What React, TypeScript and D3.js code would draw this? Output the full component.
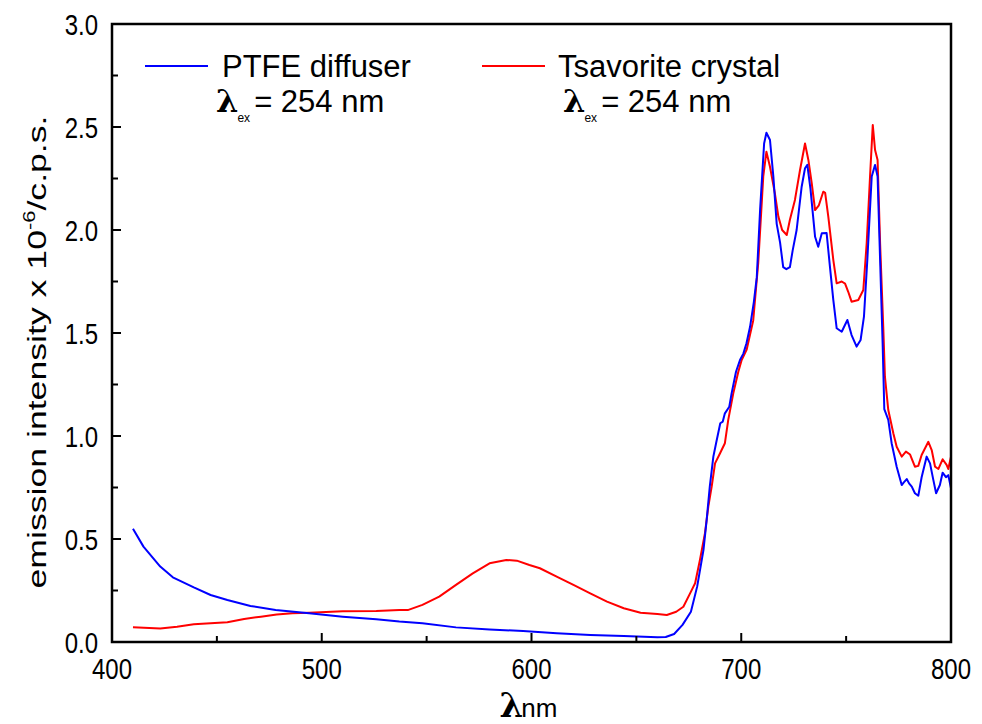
import React from 'react';
import * as d3 from 'd3';

// PTFE diffuser emission, [wavelength nm, intensity x 1e-6]
const ptfeSpectrum: [number, number][] = [
  [410, 0.55], [415, 0.463], [423, 0.366], [429, 0.314], [439, 0.265], [447, 0.228],
  [455, 0.204], [466, 0.175], [478, 0.155], [494, 0.139], [510, 0.123], [526, 0.11],
  [537, 0.099], [548, 0.091], [564, 0.071], [580, 0.061], [596, 0.053], [612, 0.042],
  [628, 0.034], [644, 0.029], [660, 0.023], [664, 0.024], [668, 0.039], [672, 0.083],
  [676, 0.147], [679, 0.27], [682, 0.447], [683.5, 0.592], [685, 0.754], [686.7, 0.9],
  [688, 0.965], [690, 1.062], [691.2, 1.07], [692.2, 1.11], [694.3, 1.142], [695.4, 1.207],
  [697.5, 1.312], [699.4, 1.369], [701, 1.4], [702.5, 1.45], [704.2, 1.53], [706, 1.65],
  [707.4, 1.77], [709, 2.1], [710.9, 2.42], [712, 2.472], [713.7, 2.437], [715.3, 2.26],
  [716.9, 2.03], [718.5, 1.94], [720, 1.82], [721.5, 1.81], [723.2, 1.82], [724.5, 1.9],
  [726.4, 2.0], [728.8, 2.21], [730.4, 2.3], [731.5, 2.316], [733, 2.2], [735.2, 1.967],
  [736.7, 1.919], [738.4, 1.984], [740.7, 1.985], [742.3, 1.82], [743.9, 1.66], [745.5, 1.523],
  [747.9, 1.506], [749.5, 1.54], [750.6, 1.563], [752.6, 1.49], [755, 1.434], [756.9, 1.466],
  [758.5, 1.579], [760.1, 1.854], [762.2, 2.26], [763.8, 2.316], [765, 2.26], [766.2, 1.854],
  [767.4, 1.45], [768.2, 1.13], [770.1, 1.078], [771.7, 0.965], [774.1, 0.851], [776.5, 0.762],
  [777.5, 0.775], [778.9, 0.791], [780, 0.77], [781.3, 0.754], [782.8, 0.722], [784.4, 0.71],
  [786, 0.8], [788.4, 0.9], [790, 0.867], [791.6, 0.786], [792.9, 0.722], [794.7, 0.762],
  [796, 0.822], [797.6, 0.8], [798.7, 0.81], [800, 0.746],
];

// Tsavorite crystal emission
const tsavoriteSpectrum: [number, number][] = [
  [410, 0.071], [423, 0.066], [431, 0.074], [439, 0.086], [447, 0.091], [455, 0.096],
  [463, 0.112], [471, 0.123], [478.5, 0.134], [486, 0.139], [494, 0.142], [510, 0.149],
  [526, 0.15], [537, 0.155], [541, 0.155], [548, 0.18], [556, 0.22], [564, 0.277],
  [572, 0.333], [580, 0.382], [588, 0.398], [593, 0.395], [599, 0.374], [604, 0.358],
  [612, 0.317], [620, 0.277], [628, 0.236], [636, 0.196], [644, 0.164], [652, 0.142],
  [660, 0.136], [664.5, 0.131], [669, 0.147], [672.4, 0.171], [675.6, 0.236], [678, 0.285],
  [680.3, 0.398], [682.7, 0.528], [684.3, 0.657], [685.9, 0.754], [687.5, 0.867], [689.9, 0.916],
  [692.2, 0.965], [693.8, 1.078], [696.2, 1.207], [698.6, 1.312], [700.2, 1.369], [702.6, 1.42],
  [705.7, 1.56], [708.1, 1.84], [710.5, 2.26], [712, 2.38], [713.7, 2.307], [716, 2.18],
  [717.7, 2.065], [719.5, 2.0], [721.7, 1.976], [723.2, 2.05], [725.6, 2.146], [728, 2.29],
  [730.4, 2.42], [732, 2.34], [733.6, 2.228], [735.2, 2.097], [737, 2.12], [739.1, 2.186],
  [740, 2.18], [741.5, 2.065], [743.9, 1.854], [745.5, 1.741], [747.9, 1.75], [749.5, 1.74],
  [751, 1.7], [752.6, 1.652], [755.8, 1.66], [758.2, 1.709], [759.8, 1.935], [761.4, 2.26],
  [762.7, 2.51], [763.8, 2.388], [765, 2.34], [766.2, 1.935], [767.7, 1.53], [768.5, 1.288],
  [770.1, 1.126], [772.5, 1.013], [774.1, 0.948], [776.5, 0.9], [778.5, 0.924], [780.5, 0.91],
  [782.8, 0.851], [784.4, 0.855], [786, 0.908], [789.2, 0.972], [790.8, 0.932], [792.4, 0.851],
  [794, 0.84], [796, 0.887], [797.9, 0.86], [798.7, 0.84], [800, 0.9],
];

const xTicks = [400, 500, 600, 700, 800];
const xMinorTicks = [450, 550, 650, 750];
const yTicks = [0, 0.5, 1.0, 1.5, 2.0, 2.5, 3.0];
const yMinorTicks = [0.25, 0.75, 1.25, 1.75, 2.25, 2.75];

const FONT = '"Liberation Sans", Arial, sans-serif';
const LAMBDA_FONT = '"DejaVu Serif", serif';

// λ with "ex" subscript and the value, kept in one text element
const Excitation = ({ x, y }: { x: number; y: number }) => (
  <text x={x} y={y} fontSize={31}>
    <tspan fontSize={32} fontWeight="bold" fontFamily={LAMBDA_FONT}>λ</tspan>
    <tspan fontSize={12} dx={-1} dy={10}>ex</tspan>
    <tspan dx={4} dy={-10}>= 254 nm</tspan>
  </text>
);

const App = () => {
  const width = 982;
  const height = 724;
  const plot = { left: 112, right: 951, top: 24, bottom: 642 };

  const x = d3.scaleLinear().domain([400, 800]).range([plot.left, plot.right]);
  const y = d3.scaleLinear().domain([0, 3]).range([plot.bottom, plot.top]);

  const line = d3.line<[number, number]>()
    .x(d => x(d[0]))
    .y(d => y(d[1]));

  const tickStretch = 1.25;

  return (
    <svg width={width} height={height} style={{ position: 'absolute', left: 0, top: 0, background: '#fff' }}
      fontFamily={FONT}>
      {/* curves */}
      <path d={line(tsavoriteSpectrum) ?? ''} fill="none" stroke="#ff0000" strokeWidth={2} strokeLinejoin="round" />
      <path d={line(ptfeSpectrum) ?? ''} fill="none" stroke="#0000ff" strokeWidth={2} strokeLinejoin="round" />

      {/* frame */}
      <rect x={plot.left} y={plot.top} width={plot.right - plot.left} height={plot.bottom - plot.top}
        fill="none" stroke="#000" strokeWidth={2.5} />

      {/* x ticks */}
      {xTicks.map(t => (
        <g key={'xt' + t}>
          <line x1={x(t)} x2={x(t)} y1={plot.bottom} y2={plot.bottom - 9} stroke="#000" strokeWidth={2} />
          <text transform={`translate(${x(t)},${plot.bottom + 37}) scale(1,${tickStretch})`} textAnchor="middle" fontSize={24}>{t}</text>
        </g>
      ))}
      {xMinorTicks.map(t => (
        <line key={'xm' + t} x1={x(t)} x2={x(t)} y1={plot.bottom} y2={plot.bottom - 6} stroke="#000" strokeWidth={2} />
      ))}

      {/* y ticks */}
      {yTicks.map(t => (
        <g key={'yt' + t}>
          <line x1={plot.left} x2={plot.left + 9} y1={y(t)} y2={y(t)} stroke="#000" strokeWidth={2} />
          <text transform={`translate(${plot.left - 14},${y(t) + 11}) scale(1,${tickStretch})`} textAnchor="end" fontSize={24}>{t.toFixed(1)}</text>
        </g>
      ))}
      {yMinorTicks.map(t => (
        <line key={'ym' + t} x1={plot.left} x2={plot.left + 6} y1={y(t)} y2={y(t)} stroke="#000" strokeWidth={2} />
      ))}

      {/* y axis title */}
      <text transform="translate(46,352) rotate(-90)" textAnchor="middle" fontSize={26}
        textLength={473} lengthAdjust="spacingAndGlyphs">
        emission intensity x 10<tspan dy={-11} fontSize={16}>-6</tspan><tspan dy={11}>/c.p.s.</tspan>
      </text>

      {/* x axis title */}
      <text transform={`translate(${(plot.left + plot.right) / 2 - 32},717)`} fontSize={26}>
        <tspan fontSize={34} fontWeight="bold" fontFamily={LAMBDA_FONT}>λ</tspan>
        <tspan dx={-2}>nm</tspan>
      </text>

      {/* legend */}
      <line x1={145} x2={208} y1={66} y2={66} stroke="#0000ff" strokeWidth={2} />
      <text x={222} y={77} fontSize={31}>PTFE diffuser</text>
      <Excitation x={216} y={112} />

      <line x1={482} x2={545} y1={66} y2={66} stroke="#ff0000" strokeWidth={2} />
      <text x={558} y={77} fontSize={31}>Tsavorite crystal</text>
      <Excitation x={563} y={112} />
    </svg>
  );
};

export default App;
